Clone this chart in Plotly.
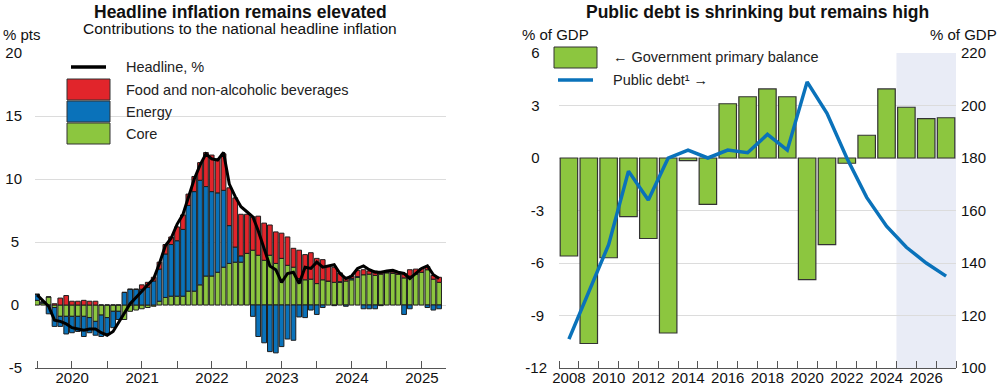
import pandas as pd
import plotly.graph_objects as go

# ---------------- Left panel data: contributions to headline inflation (% pts) ----------------
months = pd.date_range("2020-01-01", "2025-10-01", freq="MS")

core = [0.37, 0.15, 0.64, -0.2, -0.9, -0.9, -0.9, -0.9, -0.9, -1.0, -1.3, -0.8,
        -1.0, -0.5, -0.5, -1.15, -0.5, -0.4, -0.3, -0.2, -0.1, 0.3, 0.6, 0.7,
        0.7, 0.7, 1.1, 1.1, 1.6, 2.3, 2.3, 2.6, 3.0, 3.3, 3.4, 3.4,
        4.1, 4.35, 3.95, 3.55, 3.95, 3.3, 3.7, 3.15, 3.0, 2.1, 2.0, 2.05,
        1.7, 2.0, 1.9, 1.8, 1.8, 1.9, 2.0, 2.2, 2.4, 2.45, 2.35, 2.45,
        2.55, 2.5, 2.45, 2.15, 2.3, 2.45, 2.6, 2.8, 2.05, 1.8]

energy = [0.48, 0.1, -0.7, -1.5, -0.8, -1.4, -1.3, -1.2, -1.6, -1.2, -1.1, -1.7,
          -1.3, -1.3, -0.65, 1.0, 1.25, 1.25, 1.25, 1.4, 1.9, 2.55, 3.45, 4.1,
          4.4, 5.3, 6.8, 7.9, 8.3, 7.1, 6.7, 6.3, 6.1, 3.0, 1.2, 0.5,
          0.0, -0.9, -2.5, -3.0, -3.7, -3.8, -3.3, -2.7, -2.8, -0.95, -1.0, -0.4,
          -0.75, -0.2, 0.0, -0.05, 0.05, -0.1, 0.1, 0.05, -0.3, -0.3, -0.3, -0.05,
          0.05, 0.05, 0.0, -0.75, -0.3, 0.05, 0.0, -0.2, -0.4, -0.3]

food = [0.0, 0.0, 0.0, 0.1, 0.55, 0.75, 0.3, 0.3, 0.37, 0.3, 0.3, 0.0,
        0.0, 0.0, 0.0, 0.0, 0.0, 0.0, 0.35, 0.4, 0.3, 0.55, 0.75, 0.6,
        1.1, 1.15, 0.9, 1.2, 1.4, 2.7, 2.9, 2.7, 2.9, 3.0, 3.9, 3.3,
        3.1, 2.65, 3.1, 2.95, 2.4, 2.5, 2.0, 2.25, 1.5, 2.25, 2.0, 2.1,
        2.0, 1.6, 1.2, 1.2, 0.7, 0.3, 0.2, 0.5, 0.4, 0.25, 0.35, 0.1,
        0.1, 0.15, 0.15, 0.35, 0.5, 0.35, 0.3, 0.25, 0.3, 0.4]

headline = [0.8, 0.3, -0.1, -1.2, -1.3, -1.5, -1.8, -1.9, -2.0, -1.9, -1.9, -2.2,
            -2.4, -2.1, -1.4, -0.6, 0.1, 0.6, 1.1, 1.6, 2.1, 3.3, 4.7, 5.3,
            6.4, 7.2, 8.6, 10.0, 11.1, 12.0, 11.6, 11.5, 12.1, 9.6, 8.6, 7.8,
            7.4, 7.0, 5.9, 4.5, 3.1, 2.8, 1.8, 2.5, 2.6, 1.7, 3.0, 2.9,
            3.4, 3.0, 3.1, 3.2, 2.5, 2.1, 2.3, 2.9, 3.1, 2.8, 2.6, 2.6,
            2.7, 2.75, 2.6, 2.5, 2.1, 2.5, 2.9, 3.1, 2.4, 2.1]

left_yticks = [-5, 0, 5, 10, 15, 20]
left_yticklabels = ["-5", "0\u2009", "5\u2009", "10", "15", "20"]

# ---------------- Right panel data: primary balance and public debt (% of GDP) ----------------
years = list(range(2008, 2028))
primary_balance = [-5.6, -10.6, -5.7, -3.35, -4.6, -10.0, -0.15, -2.65, 3.1, 3.5,
                   3.95, 3.5, -6.95, -4.95, -0.3, 1.3, 3.95, 2.9, 2.25, 2.3]
public_debt = [111, 129, 147, 175, 164, 180, 183, 180, 183, 182,
               189, 183, 209, 197, 180, 165, 154, 146, 140, 135]
projection_years = [2025, 2026, 2027]

year_ticks = list(range(2008, 2027, 2))
year_ticklabels = [str(y) for y in year_ticks]
bal_ticks = [-12, -9, -6, -3, 0, 3, 6]
bal_ticklabels = ["-12", "-9\u2009", "-6\u2009", "-3\u2009", "0\u2002", "3\u2002", "6\u2002"]
debt_ticks = [100, 120, 140, 160, 180, 200, 220]
debt_ticklabels = [str(v) for v in debt_ticks]

# ---------------- Styles ----------------
GREEN = "#8cc63f"
BLUE = "#0a72ba"
RED = "#e1252b"
OUTLINE = "#1e1e1e"
GRID = "#dcdcdc"
AXIS = "#555555"
FONT = "Liberation Sans, Arial, sans-serif"
W, H = 1000, 385


def px(x):
    return x / W


def py(y):
    return 1 - y / H


fig = go.Figure()

for vals, col, name in [(core, GREEN, "Core"), (energy, BLUE, "Energy"),
                        (food, RED, "Food and non-alcoholic beverages")]:
    fig.add_trace(go.Bar(x=months, y=vals, name=name, marker_color=col,
                         marker_line=dict(color=OUTLINE, width=1),
                         xaxis="x", yaxis="y", showlegend=False))
fig.add_trace(go.Scatter(x=months, y=headline, mode="lines", name="Headline, %",
                         line=dict(color="black", width=3), xaxis="x", yaxis="y",
                         showlegend=False))

fig.add_trace(go.Bar(x=years, y=primary_balance, name="Government primary balance",
                     marker_color=GREEN, marker_line=dict(color="#333333", width=1.2),
                     xaxis="x2", yaxis="y2", showlegend=False))
fig.add_trace(go.Scatter(x=years, y=public_debt, mode="lines", name="Public debt",
                         line=dict(color=BLUE, width=3.5), xaxis="x2", yaxis="y3",
                         showlegend=False))

dom_y = [py(368), py(53)]

fig.update_layout(
    autosize=True, margin=dict(l=0, r=0, t=0, b=0, autoexpand=False),
    paper_bgcolor="white", plot_bgcolor="rgba(0,0,0,0)",
    barmode="relative", bargap=0.12,
    font=dict(family=FONT, size=15, color="#111111"),
    xaxis=dict(domain=[px(35), px(446)], type="date", anchor="y",
               range=["2019-12-21", "2025-11-06"],
               tick0="2020-01-01", dtick="M12", tickformat="%Y", ticklabelmode="period",
               ticks="inside", ticklen=7, tickcolor=AXIS, showline=True,
               linecolor=AXIS, linewidth=1, showgrid=False, ticklabelstandoff=-4,
               minor=dict(dtick="M6", ticks="inside", ticklen=7, tickcolor=AXIS,
                          showgrid=False),
               tickfont=dict(size=15)),
    yaxis=dict(domain=dom_y, anchor="x", range=[-5, 20],
               tickvals=left_yticks, ticktext=left_yticklabels,
               showgrid=True, gridcolor=GRID, gridwidth=1, zeroline=False,
               ticks="", ticklabelstandoff=12, tickfont=dict(size=15)),
    xaxis2=dict(domain=[px(559), px(956)], anchor="y2", range=[2007.5, 2027.5],
                tickvals=year_ticks, ticktext=year_ticklabels, ticks="",
                showline=True, linecolor=AXIS, linewidth=1, showgrid=False,
                ticklabelstandoff=-4,
                minor=dict(tick0=2007.5, dtick=1, ticks="inside", ticklen=7,
                           tickcolor=AXIS, showgrid=False),
                tickfont=dict(size=15)),
    yaxis2=dict(domain=dom_y, anchor="x2", range=[-12, 6],
                tickvals=bal_ticks, ticktext=bal_ticklabels,
                showgrid=True, gridcolor=GRID, gridwidth=1, zeroline=False,
                ticks="", ticklabelstandoff=11, tickfont=dict(size=15)),
    yaxis3=dict(domain=dom_y, anchor="x2", overlaying="y2", side="right",
                range=[100, 220], tickvals=debt_ticks, ticktext=debt_ticklabels,
                showgrid=False, zeroline=False, ticks="", ticklabelstandoff=4,
                tickfont=dict(size=15)),
)

# projection shading
fig.add_shape(type="rect", xref="x2", yref="paper",
              x0=min(projection_years) - 0.5, x1=max(projection_years) + 0.5,
              y0=dom_y[0], y1=dom_y[1], fillcolor="#e9ecf6", line_width=0, layer="below")

ann = []
# titles
ann.append(dict(text="<b>Headline inflation remains elevated</b>", x=px(240), y=1.0,
                yanchor="top", font=dict(size=17.5)))
ann.append(dict(text="Contributions to the national headline inflation", x=px(240),
                y=py(28), font=dict(size=15.5)))
ann.append(dict(text="<b>Public debt is shrinking but remains high</b>", x=px(757.5),
                y=1.0, yanchor="top", font=dict(size=17.5)))
# axis unit labels
ann.append(dict(text="% pts", x=px(0.5), y=py(34), xanchor="left"))
ann.append(dict(text="% of GDP", x=px(520), y=py(34), xanchor="left"))
ann.append(dict(text="% of GDP", x=px(999), y=py(34), xanchor="right"))

# left legend
leg_left = [("Headline, %", 67), ("Food and non-alcoholic beverages", 90),
            ("Energy", 112), ("Core", 134)]
for txt, yy in leg_left:
    ann.append(dict(text=txt, x=px(124), y=py(yy), xanchor="left",
                    font=dict(size=14.5, color="#222222")))
fig.add_shape(type="line", xref="paper", yref="paper", x0=px(71), x1=px(106),
              y0=py(67), y1=py(67), line=dict(color="black", width=3.5))
for col, (y0, y1) in [(RED, (79, 100)), (BLUE, (101, 122)), (GREEN, (123, 144))]:
    fig.add_shape(type="rect", xref="paper", yref="paper", x0=px(67), x1=px(110),
                  y0=py(y1), y1=py(y0), fillcolor=col,
                  line=dict(color="#333333", width=1))

# right legend
fig.add_shape(type="rect", xref="paper", yref="paper", x0=px(554), x1=px(597),
              y0=py(68), y1=py(47), fillcolor=GREEN, line=dict(color="#333333", width=1))
fig.add_shape(type="line", xref="paper", yref="paper", x0=px(558), x1=px(593),
              y0=py(80), y1=py(80), line=dict(color=BLUE, width=3.5))
ann.append(dict(text="\u2190 Government primary balance", x=px(611), y=py(57),
                xanchor="left", font=dict(size=14.5, color="#222222")))
ann.append(dict(text="Public debt\u00b9 \u2192", x=px(611), y=py(80),
                xanchor="left", font=dict(size=14.5, color="#222222")))

for a in ann:
    a.setdefault("xref", "paper")
    a.setdefault("yref", "paper")
    a.setdefault("showarrow", False)
    a.setdefault("xanchor", "center")
    a.setdefault("yanchor", "middle")
fig.update_layout(annotations=ann)

fig.write_html(
    "out.html",
    config={"displayModeBar": False, "responsive": False},
    default_width=f"{W}px;position:absolute;left:0;top:0;margin:0",
    default_height=f"{H}px",
    post_script="document.body.style.margin='0';",
)
